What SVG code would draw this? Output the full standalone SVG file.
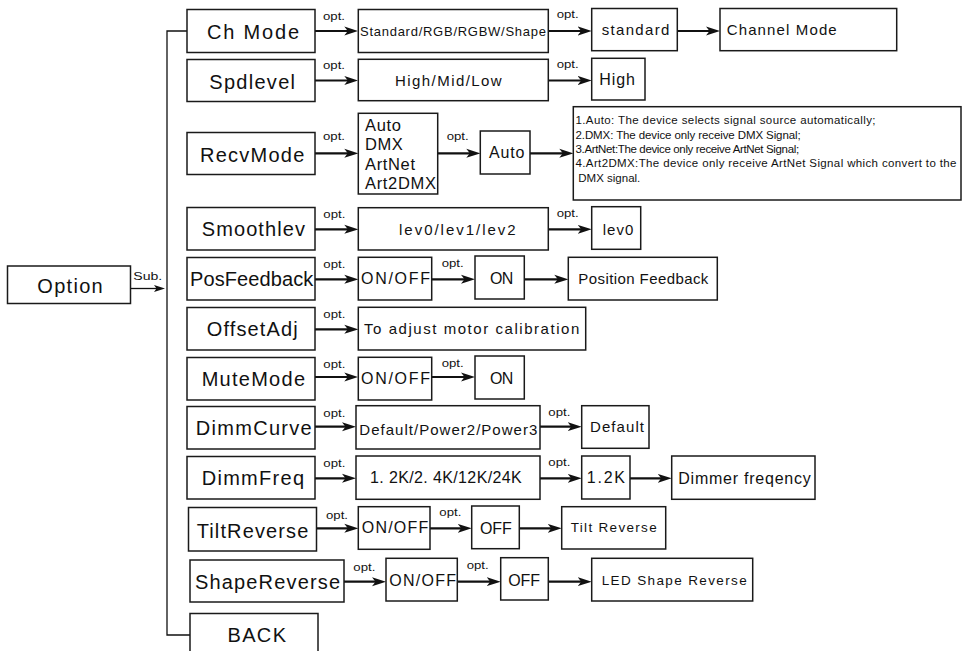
<svg xmlns="http://www.w3.org/2000/svg" width="969" height="651" viewBox="0 0 969 651">
<style>
.box{fill:#fff;stroke:#1a1a1a;stroke-width:1.5}
text{font-family:"Liberation Sans",Arial,Helvetica,sans-serif;fill:#111}
.main{font-size:20px}
.t14{font-size:15px}
.t15{font-size:16px}
.t13{font-size:13.5px}
.t12{font-size:13px}
.t16{font-size:16.5px}
.desc{font-size:11.5px}
.opt{font-size:11.5px}
.ln{stroke:#111;stroke-width:2.2;fill:none;marker-end:url(#ah)}
.tree{stroke:#111;stroke-width:1.3;fill:none}
</style>
<defs>
<marker id="ah" markerUnits="userSpaceOnUse" markerWidth="14" markerHeight="10" refX="8" refY="5" orient="auto">
<path d="M0,0.5 L14,5 L0,9.5 L3.5,5 Z" fill="#111"/>
</marker>
<marker id="ahs" markerUnits="userSpaceOnUse" markerWidth="11" markerHeight="8" refX="6" refY="4" orient="auto">
<path d="M0,0.5 L11,4 L0,7.5 L2.5,4 Z" fill="#111"/>
</marker>
</defs>
<rect width="969" height="651" fill="#fff"/>

<g id="connectors">
<path class="tree" d="M187,31 H167 V635 H190"/>
<line x1="130.5" y1="288.5" x2="160" y2="288.5" stroke="#111" stroke-width="1.3" marker-end="url(#ahs)"/>
<text class="opt" x="133.3" y="280" textLength="29" lengthAdjust="spacingAndGlyphs">Sub.</text>
<line class="ln" x1="315" y1="31" x2="352.3" y2="31"/>
<line class="ln" x1="548.3" y1="31" x2="585.7" y2="31"/>
<line class="ln" x1="677.3" y1="31" x2="714" y2="31"/>
<line class="ln" x1="315" y1="80.5" x2="352.3" y2="80.5"/>
<line class="ln" x1="548.3" y1="80.5" x2="585.7" y2="80.5"/>
<line class="ln" x1="315" y1="153.3" x2="352.3" y2="153.3"/>
<line class="ln" x1="437.7" y1="153.3" x2="474.3" y2="153.3"/>
<line class="ln" x1="530" y1="153.3" x2="567.3" y2="153.3"/>
<line class="ln" x1="315" y1="229.3" x2="352.3" y2="229.3"/>
<line class="ln" x1="548.3" y1="229.3" x2="585.7" y2="229.3"/>
<line class="ln" x1="315" y1="279.3" x2="352.3" y2="279.3"/>
<line class="ln" x1="431.7" y1="279.3" x2="469" y2="279.3"/>
<line class="ln" x1="524.3" y1="279.3" x2="562.3" y2="279.3"/>
<line class="ln" x1="315" y1="329.3" x2="352.3" y2="329.3"/>
<line class="ln" x1="315" y1="377" x2="352.3" y2="377"/>
<line class="ln" x1="431.7" y1="377" x2="469" y2="377"/>
<line class="ln" x1="315" y1="426.7" x2="350" y2="426.7"/>
<line class="ln" x1="540" y1="426.7" x2="575.7" y2="426.7"/>
<line class="ln" x1="315" y1="478.3" x2="350" y2="478.3"/>
<line class="ln" x1="540" y1="478.3" x2="575.7" y2="478.3"/>
<line class="ln" x1="630" y1="478.3" x2="665.7" y2="478.3"/>
<line class="ln" x1="316.5" y1="528.3" x2="352.3" y2="528.3"/>
<line class="ln" x1="430" y1="528.3" x2="465.7" y2="528.3"/>
<line class="ln" x1="519.3" y1="528.3" x2="555.7" y2="528.3"/>
<line class="ln" x1="344" y1="581.7" x2="380" y2="581.7"/>
<line class="ln" x1="457.3" y1="581.7" x2="494.7" y2="581.7"/>
<line class="ln" x1="548.3" y1="581.7" x2="585.7" y2="581.7"/>
<g class="opt-labels">
<text class="opt" x="323" y="19.5" textLength="22" lengthAdjust="spacingAndGlyphs">opt.</text>
<text class="opt" x="556.7" y="18" textLength="22" lengthAdjust="spacingAndGlyphs">opt.</text>
<text class="opt" x="323" y="69.3" textLength="22" lengthAdjust="spacingAndGlyphs">opt.</text>
<text class="opt" x="556.7" y="68.3" textLength="22" lengthAdjust="spacingAndGlyphs">opt.</text>
<text class="opt" x="323" y="140" textLength="22" lengthAdjust="spacingAndGlyphs">opt.</text>
<text class="opt" x="446.7" y="140" textLength="22" lengthAdjust="spacingAndGlyphs">opt.</text>
<text class="opt" x="323.3" y="218.3" textLength="22" lengthAdjust="spacingAndGlyphs">opt.</text>
<text class="opt" x="556.7" y="216.7" textLength="22" lengthAdjust="spacingAndGlyphs">opt.</text>
<text class="opt" x="323.3" y="268.3" textLength="22" lengthAdjust="spacingAndGlyphs">opt.</text>
<text class="opt" x="441.7" y="266.7" textLength="22" lengthAdjust="spacingAndGlyphs">opt.</text>
<text class="opt" x="323.3" y="318.3" textLength="22" lengthAdjust="spacingAndGlyphs">opt.</text>
<text class="opt" x="323.3" y="368.3" textLength="22" lengthAdjust="spacingAndGlyphs">opt.</text>
<text class="opt" x="441.7" y="366.7" textLength="22" lengthAdjust="spacingAndGlyphs">opt.</text>
<text class="opt" x="323.3" y="416.7" textLength="22" lengthAdjust="spacingAndGlyphs">opt.</text>
<text class="opt" x="548.3" y="416" textLength="22" lengthAdjust="spacingAndGlyphs">opt.</text>
<text class="opt" x="323.3" y="466.7" textLength="22" lengthAdjust="spacingAndGlyphs">opt.</text>
<text class="opt" x="548.3" y="465.7" textLength="22" lengthAdjust="spacingAndGlyphs">opt.</text>
<text class="opt" x="326" y="519" textLength="22" lengthAdjust="spacingAndGlyphs">opt.</text>
<text class="opt" x="439.3" y="515.7" textLength="22" lengthAdjust="spacingAndGlyphs">opt.</text>
<text class="opt" x="353.3" y="570.7" textLength="22" lengthAdjust="spacingAndGlyphs">opt.</text>
<text class="opt" x="466.7" y="569.3" textLength="22" lengthAdjust="spacingAndGlyphs">opt.</text>
</g>
</g>

<g id="option"><rect class="box" x="7.5" y="266" width="123" height="37.5"/><text class="main" x="37.3" y="293.3" textLength="65.4" lengthAdjust="spacing">Option</text></g>

<g id="chmode"><rect class="box" x="187" y="9.5" width="128" height="43"/><text class="main" x="207" y="38.5" textLength="92" lengthAdjust="spacing">Ch Mode</text></g>
<g id="spdlevel"><rect class="box" x="187" y="59.5" width="128" height="42"/><text class="main" x="209.3" y="88.5" textLength="85.7" lengthAdjust="spacing">Spdlevel</text></g>
<g id="recvmode"><rect class="box" x="187" y="132.5" width="128" height="42"/><text class="main" x="200" y="161.5" textLength="104.3" lengthAdjust="spacing">RecvMode</text></g>
<g id="smoothlev"><rect class="box" x="187" y="207.5" width="128" height="42.5"/><text class="main" x="201.7" y="236" textLength="103.3" lengthAdjust="spacing">Smoothlev</text></g>
<g id="posfeedback"><rect class="box" x="187" y="257.5" width="128" height="42.5"/><text class="main" x="190" y="286" textLength="123.3" lengthAdjust="spacing">PosFeedback</text></g>
<g id="offsetadj"><rect class="box" x="187" y="307.5" width="128" height="42.5"/><text class="main" x="206.7" y="336" textLength="91" lengthAdjust="spacing">OffsetAdj</text></g>
<g id="mutemode"><rect class="box" x="187" y="357.5" width="128" height="42.5"/><text class="main" x="201.7" y="386" textLength="103.3" lengthAdjust="spacing">MuteMode</text></g>
<g id="dimmcurve"><rect class="box" x="187" y="406.5" width="128" height="42.5"/><text class="main" x="195.7" y="435" textLength="116" lengthAdjust="spacing">DimmCurve</text></g>
<g id="dimmfreq"><rect class="box" x="187" y="456.5" width="128" height="42.5"/><text class="main" x="201.7" y="485" textLength="102.3" lengthAdjust="spacing">DimmFreq</text></g>
<g id="tiltreverse"><rect class="box" x="188.5" y="507.5" width="128" height="43.5"/><text class="main" x="196.7" y="538" textLength="111.6" lengthAdjust="spacing">TiltReverse</text></g>
<g id="shapereverse"><rect class="box" x="190" y="560" width="154" height="42"/><text class="main" x="195" y="588.5" textLength="145" lengthAdjust="spacing">ShapeReverse</text></g>
<g id="back"><rect class="box" x="190" y="613.5" width="128" height="45"/><text class="main" x="227.5" y="641.7" textLength="58.5" lengthAdjust="spacing">BACK</text></g>

<g id="chmode-options"><rect class="box" x="358.3" y="9.5" width="190" height="43"/><text class="t12" x="360" y="36" textLength="186" lengthAdjust="spacing">Standard/RGB/RGBW/Shape</text></g>
<g id="chmode-default"><rect class="box" x="591.7" y="8.5" width="85.6" height="42.2"/><text class="t14" x="601.7" y="35" textLength="67.6" lengthAdjust="spacing">standard</text></g>
<g id="chmode-desc"><rect class="box" x="720" y="8.5" width="176.7" height="42.2"/><text class="t14" x="726.7" y="35" textLength="110" lengthAdjust="spacing">Channel Mode</text></g>

<g id="spd-options"><rect class="box" x="358.3" y="59.3" width="190" height="41.4"/><text class="t14" x="395" y="86" textLength="106.7" lengthAdjust="spacing">High/Mid/Low</text></g>
<g id="spd-default"><rect class="box" x="591.7" y="58.3" width="53.3" height="41.7"/><text class="t15" x="599.3" y="85" textLength="35.7" lengthAdjust="spacing">High</text></g>

<g id="recv-options"><rect class="box" x="358.3" y="113.3" width="79.4" height="80.7"/>
<text class="t16" x="365" y="130.7" textLength="36" lengthAdjust="spacing">Auto</text>
<text class="t16" x="365" y="150" textLength="37.7" lengthAdjust="spacing">DMX</text>
<text class="t16" x="365" y="170" textLength="50" lengthAdjust="spacing">ArtNet</text>
<text class="t16" x="365" y="189" textLength="71" lengthAdjust="spacing">Art2DMX</text></g>
<g id="recv-default"><rect class="box" x="480.3" y="131" width="49.7" height="43"/><text class="t15" x="489" y="158.3" textLength="35.3" lengthAdjust="spacing">Auto</text></g>
<g id="recv-desc"><rect class="box" x="573.3" y="106.7" width="387.7" height="93.3"/>
<text class="desc" x="575.5" y="124.3" textLength="300" lengthAdjust="spacing">1.Auto: The device selects signal source automatically;</text>
<text class="desc" x="575.5" y="138.6" letter-spacing="-0.1">2.DMX: The device only receive DMX Signal;</text>
<text class="desc" x="575.5" y="152.9" letter-spacing="-0.35">3.ArtNet:The device only receive ArtNet Signal;</text>
<text class="desc" x="575.5" y="167.2" textLength="381" lengthAdjust="spacing">4.Art2DMX:The device only receive ArtNet Signal which convert to the</text>
<text class="desc" x="578.3" y="181.5">DMX signal.</text></g>

<g id="smooth-options"><rect class="box" x="358.3" y="207.7" width="190" height="42.3"/><text class="t14" x="399" y="235" textLength="116.7" lengthAdjust="spacing">lev0/lev1/lev2</text></g>
<g id="smooth-default"><rect class="box" x="591.7" y="206.7" width="49" height="42.6"/><text class="t14" x="602.7" y="235" textLength="30.6" lengthAdjust="spacing">lev0</text></g>

<g id="pos-options"><rect class="box" x="358.3" y="257.3" width="73.4" height="42.7"/><text class="t15" x="361" y="284.3" textLength="69" lengthAdjust="spacing">ON/OFF</text></g>
<g id="pos-default"><rect class="box" x="475" y="256" width="49.3" height="43"/><text class="t15" x="490" y="284" textLength="23.3" lengthAdjust="spacing">ON</text></g>
<g id="pos-desc"><rect class="box" x="568.3" y="257.3" width="149" height="42.7"/><text class="t14" x="578.3" y="284.3" textLength="130" lengthAdjust="spacing">Position Feedback</text></g>

<g id="offset-desc"><rect class="box" x="358.3" y="307.3" width="227.4" height="42.7"/><text class="t14" x="364" y="334" textLength="215.3" lengthAdjust="spacing">To adjust motor calibration</text></g>

<g id="mute-options"><rect class="box" x="358.3" y="357.3" width="73.4" height="42.7"/><text class="t15" x="361" y="384.3" textLength="69" lengthAdjust="spacing">ON/OFF</text></g>
<g id="mute-default"><rect class="box" x="475" y="356" width="49.3" height="43"/><text class="t15" x="490" y="384" textLength="23.3" lengthAdjust="spacing">ON</text></g>

<g id="curve-options"><rect class="box" x="356" y="405.7" width="184" height="43.3"/><text class="t14" x="359.3" y="435" textLength="178" lengthAdjust="spacing">Default/Power2/Power3</text></g>
<g id="curve-default"><rect class="box" x="581.7" y="405.7" width="67.3" height="42.6"/><text class="t14" x="590" y="432.3" textLength="54" lengthAdjust="spacing">Default</text></g>

<g id="freq-options"><rect class="box" x="356" y="456" width="184" height="43.3"/><text class="t15" x="370" y="483.3" textLength="151.7" lengthAdjust="spacing">1. 2K/2. 4K/12K/24K</text></g>
<g id="freq-default"><rect class="box" x="581.7" y="456" width="48.3" height="43"/><text class="t15" x="586.7" y="483.3" textLength="38.3" lengthAdjust="spacing">1.2K</text></g>
<g id="freq-desc"><rect class="box" x="671.7" y="456" width="143.3" height="43.3"/><text class="t15" x="678.3" y="483.5" textLength="132.4" lengthAdjust="spacing">Dimmer freqency</text></g>

<g id="tilt-options"><rect class="box" x="358.3" y="506.7" width="71.7" height="42.6"/><text class="t15" x="361.7" y="533.3" textLength="66.6" lengthAdjust="spacing">ON/OFF</text></g>
<g id="tilt-default"><rect class="box" x="471.7" y="506" width="47.6" height="42.7"/><text class="t15" x="480" y="534" textLength="31.7" lengthAdjust="spacing">OFF</text></g>
<g id="tilt-desc"><rect class="box" x="561.7" y="506.7" width="104" height="42.3"/><text class="t13" x="570.7" y="532.3" textLength="86" lengthAdjust="spacing">Tilt Reverse</text></g>

<g id="shape-options"><rect class="box" x="386" y="558.3" width="71.3" height="42.7"/><text class="t15" x="389.3" y="586" textLength="66.7" lengthAdjust="spacing">ON/OFF</text></g>
<g id="shape-default"><rect class="box" x="500.7" y="557.7" width="47.6" height="42.3"/><text class="t15" x="508.3" y="586" textLength="31.7" lengthAdjust="spacing">OFF</text></g>
<g id="shape-desc"><rect class="box" x="591.7" y="558.3" width="161" height="42.7"/><text class="t13" x="601.7" y="585" textLength="145" lengthAdjust="spacing">LED Shape Reverse</text></g>
</svg>
